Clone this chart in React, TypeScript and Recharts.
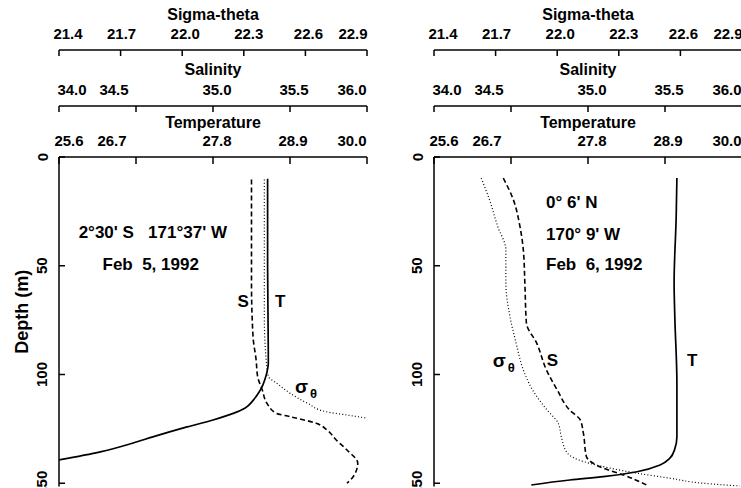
import React from "react";
import { ScatterChart, Scatter, XAxis, YAxis, ReferenceDot } from "recharts";

const depthTicks = [0, 50, 100, 150];
const sigmaTicks = [21.4, 21.7, 22.0, 22.3, 22.6, 22.9];
const salinityTicks = [34.0, 34.5, 35.0, 35.5, 36.0];
const tempTicks = [25.6, 26.7, 27.8, 28.9, 30.0];

// station A: 2°30' S 171°37' W, Feb 5 1992
const aTempDepth = [10, 50, 90, 95, 99, 102.4, 105, 108.5, 112, 115.4, 118, 120.9, 124.1, 128.7, 131.5, 135.6, 139.3];
const aTemp = [28.58, 28.58, 28.59, 28.59, 28.57, 28.54, 28.51, 28.45, 28.37, 28.26, 28.08, 27.8, 27.43, 26.94, 26.66, 26.19, 25.6];
const aSalDepth = [10.4, 58, 82.6, 93.3, 101, 107.1, 113.2, 117.8, 119.4, 122.4, 125.5, 130.1, 134.7, 140.8, 147, 150];
const aSal = [35.25, 35.25, 35.26, 35.28, 35.29, 35.32, 35.35, 35.41, 35.5, 35.67, 35.74, 35.8, 35.87, 35.94, 35.91, 35.87];
const aSigmaDepth = [10.4, 73.4, 94.7, 101, 104, 108.6, 113.2, 117.1, 118.6, 120.1];
const aSigma = [22.4, 22.4, 22.41, 22.42, 22.46, 22.525, 22.61, 22.7, 22.8, 22.9];

// station B: 0°6' N 170°9' W, Feb 6 1992
const bTempDepth = [9.7, 27.3, 58, 73.4, 104, 128.6, 134.2, 138.5, 141.6, 144.7, 147, 148.5, 150.8];
const bTemp = [29.07, 29.06, 29.03, 29.04, 29.07, 29.07, 29.04, 28.97, 28.83, 28.5, 28.02, 27.54, 26.99];
const bSalDepth = [9.7, 19.6, 31.9, 42.7, 58, 76.4, 85.6, 97.9, 107.1, 116.3, 120.9, 127, 137.8, 143.1, 146.2, 150.8];
const bSal = [34.45, 34.515, 34.558, 34.58, 34.59, 34.6, 34.667, 34.73, 34.8, 34.88, 34.95, 34.97, 34.99, 35.1, 35.23, 35.38];
const bSigmaDepth = [9.7, 19.6, 31.9, 42.7, 58, 73.4, 85.6, 97.9, 107.1, 116.3, 122.4, 128.6, 136.2, 140.1, 143.1, 145.4, 147.7, 150, 151.3];
const bSigma = [21.63, 21.67, 21.71, 21.75, 21.75, 21.77, 21.8, 21.835, 21.88, 21.95, 22.005, 22.02, 22.05, 22.13, 22.26, 22.39, 22.55, 22.71, 22.89];

const FONT = "'Liberation Sans', Arial, Helvetica, sans-serif";

const zip = (depth: number[], value: number[]) => depth.map((d, i) => ({ d, v: value[i] }));

interface AxisSpec {
  id: string;
  title: string;
  ticks: number[];
  nudge: number[];
  height: number;
  titleOffset: number;
  tickLen: number;
}

// top axes get stacked by id order, first one sits on the plot
const TEMP = "a-temp";
const SAL = "b-sal";
const SIGMA = "c-sigma";

const topAxes: AxisSpec[] = [
  { id: TEMP, title: "Temperature", ticks: tempTicks, nudge: [10, -24, 4, 3, -15], height: 51, titleOffset: 11, tickLen: 7 },
  { id: SAL, title: "Salinity", ticks: salinityTicks, nudge: [13, -22, 4, 4, -15], height: 56, titleOffset: 14, tickLen: 6 },
  { id: SIGMA, title: "Sigma-theta", ticks: sigmaTicks, nudge: [9, 1, 3, 5, 3, -14], height: 50, titleOffset: 9, tickLen: 6 },
];

const TopTick = ({ x, y, payload, index, nudge, len }: any) => (
  <g>
    <line x1={x} y1={y} x2={x} y2={y + len} stroke="#000" strokeWidth={1.5} />
    <text
      x={x + (nudge[index] ?? 0)}
      y={y - 11}
      textAnchor="middle"
      fontSize={15}
      fontWeight={700}
      fontFamily={FONT}
      fill="#000"
    >
      {Number(payload.value).toFixed(1)}
    </text>
  </g>
);

const DepthTick = ({ x, y, payload }: any) => (
  <g>
    <line x1={x} y1={y} x2={x + 6} y2={y} stroke="#000" strokeWidth={1.5} />
    <text
      x={x - 17}
      y={y}
      transform={`rotate(-90 ${x - 17} ${y})`}
      textAnchor="middle"
      dominantBaseline="central"
      fontSize={15}
      fontWeight={700}
      fontFamily={FONT}
      fill="#000"
    >
      {payload.value}
    </text>
  </g>
);

const DepthLabel = ({ viewBox }: any) => {
  const cx = viewBox.x + 22;
  const cy = viewBox.y + viewBox.height / 2 - 10;
  return (
    <text
      x={cx}
      y={cy}
      transform={`rotate(-90 ${cx} ${cy})`}
      textAnchor="middle"
      dominantBaseline="central"
      fontSize={18}
      fontWeight={700}
      fontFamily={FONT}
      fill="#000"
    >
      Depth (m)
    </text>
  );
};

interface Series {
  points: { d: number; v: number }[];
  axis: string;
  dash?: string;
  width: number;
}

interface Note {
  text: string;
  temp: number;
  depth: number;
  anchor: "start" | "middle";
  sigma?: boolean;
}

const NoteText = ({ cx, cy, note }: any) =>
  note.sigma ? (
    <text x={cx} y={cy} dominantBaseline="central" fontSize={19} fontWeight={700} fontFamily={FONT} fill="#000">
      σ
      <tspan dx={2} dy={6} fontSize={13}>
        θ
      </tspan>
    </text>
  ) : (
    <text
      x={cx}
      y={cy}
      textAnchor={note.anchor}
      dominantBaseline="central"
      fontSize={17}
      fontWeight={700}
      fontFamily={FONT}
      fill="#000"
      style={{ whiteSpace: "pre" }}
    >
      {note.text}
    </text>
  );

const stationA: Series[] = [
  { points: zip(aTempDepth, aTemp), axis: TEMP, width: 1.7 },
  { points: zip(aSalDepth, aSal), axis: SAL, dash: "5 3", width: 1.6 },
  { points: zip(aSigmaDepth, aSigma), axis: SIGMA, dash: "1 2.2", width: 1.2 },
];

const stationB: Series[] = [
  { points: zip(bTempDepth, bTemp), axis: TEMP, width: 1.7 },
  { points: zip(bSalDepth, bSal), axis: SAL, dash: "5 3", width: 1.6 },
  { points: zip(bSigmaDepth, bSigma), axis: SIGMA, dash: "1 2.2", width: 1.2 },
];

const notesA: Note[] = [
  { text: "2°30' S   171°37' W", temp: 26.94, depth: 34.8, anchor: "middle" },
  { text: "Feb  5, 1992", temp: 26.91, depth: 49.6, anchor: "middle" },
  { text: "S", temp: 28.23, depth: 66.6, anchor: "middle" },
  { text: "T", temp: 28.76, depth: 66.6, anchor: "middle" },
  { text: "", temp: 28.97, depth: 105.7, anchor: "start", sigma: true },
];

const notesB: Note[] = [
  { text: "0° 6' N", temp: 27.2, depth: 21.1, anchor: "start" },
  { text: "170° 9' W", temp: 27.2, depth: 35.8, anchor: "start" },
  { text: "Feb  6, 1992", temp: 27.2, depth: 49.6, anchor: "start" },
  { text: "S", temp: 27.29, depth: 93.7, anchor: "middle" },
  { text: "T", temp: 29.29, depth: 93.7, anchor: "middle" },
  { text: "", temp: 26.44, depth: 93.7, anchor: "start", sigma: true },
];

const PLOT_W = 308;

const Panel = ({
  left,
  yWidth,
  series,
  notes,
  depthLabel,
}: {
  left: number;
  yWidth: number;
  series: Series[];
  notes: Note[];
  depthLabel?: boolean;
}) => (
  <div style={{ position: "absolute", left, top: 0 }}>
    <ScatterChart width={yWidth + PLOT_W + 3} height={488} margin={{ top: 0, right: 3, bottom: 1.5, left: 0 }}>
      {topAxes.map((a) => (
        <XAxis
          key={a.id}
          xAxisId={a.id}
          type="number"
          dataKey="v"
          orientation="top"
          domain={[a.ticks[0], a.ticks[a.ticks.length - 1]]}
          ticks={a.ticks}
          interval={0}
          height={a.height}
          tickSize={0}
          tickMargin={0}
          tickLine={false}
          allowDataOverflow
          axisLine={{ stroke: "#000", strokeWidth: 1.5 }}
          tick={(p: any) => <TopTick {...p} nudge={a.nudge} len={a.tickLen} />}
          label={{
            value: a.title,
            position: "insideTop",
            offset: a.titleOffset,
            fill: "#000",
            fontSize: 16,
            fontWeight: 700,
            fontFamily: FONT,
          }}
        />
      ))}
      <YAxis
        type="number"
        dataKey="d"
        domain={[0, 151.5]}
        reversed
        ticks={depthTicks}
        interval={0}
        width={yWidth}
        tickSize={0}
        tickMargin={0}
        tickLine={false}
        allowDataOverflow
        axisLine={{ stroke: "#000", strokeWidth: 1.5 }}
        tick={<DepthTick />}
        label={depthLabel ? { content: <DepthLabel /> } : undefined}
      />
      {series.map((s) => (
        <Scatter
          key={s.axis}
          data={s.points}
          xAxisId={s.axis}
          isAnimationActive={false}
          shape={() => <g />}
          lineJointType="monotoneY"
          line={{ stroke: "#000", strokeWidth: s.width, strokeDasharray: s.dash }}
        />
      ))}
      {notes.map((n, i) => (
        <ReferenceDot
          key={i}
          xAxisId={TEMP}
          x={n.temp}
          y={n.depth}
          r={0}
          ifOverflow="visible"
          shape={(p: any) => <NoteText {...p} note={n} />}
        />
      ))}
    </ScatterChart>
  </div>
);

export default function App() {
  return (
    <div
      style={{
        position: "fixed",
        left: 0,
        top: 0,
        width: 741,
        height: 488,
        overflow: "hidden",
        background: "#fff",
        fontFamily: FONT,
      }}
    >
      <Panel left={0} yWidth={59} series={stationA} notes={notesA} depthLabel />
      <Panel left={370} yWidth={64} series={stationB} notes={notesB} />
    </div>
  );
}
